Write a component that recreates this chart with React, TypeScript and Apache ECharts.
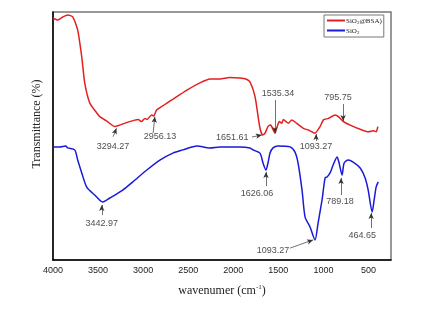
import React, { useEffect, useRef } from 'react';
import * as echarts from 'echarts';

// SiO2@BSA (red) spectrum
const redWave = [4000, 3948, 3892, 3837, 3781, 3726, 3681, 3648, 3592, 3514, 3481, 3403, 3314, 3259, 3184, 3111, 3056, 3018, 2981, 2956, 2907, 2881, 2851, 2796, 2740, 2685, 2514, 2370, 2259, 2148, 2040, 1926, 1860, 1815, 1759, 1706, 1674, 1648, 1615, 1585, 1556, 1537, 1518, 1489, 1462, 1444, 1414, 1389, 1351, 1296, 1222, 1167, 1093, 1037, 1000, 944, 870, 833, 778, 703, 592, 500, 444, 414, 396];
const redT = [97.5, 96.8, 98.0, 98.8, 98.0, 92.7, 81.9, 71.4, 63.3, 59.3, 57.8, 56.0, 53.8, 54.4, 55.4, 56.2, 56.7, 55.8, 57.1, 56.7, 58.5, 58.1, 60.5, 61.8, 63.2, 64.5, 68.5, 71.4, 73.0, 73.0, 73.6, 73.4, 73.0, 71.8, 66.0, 53.6, 50.4, 51.1, 53.8, 54.4, 52.4, 51.1, 53.2, 55.8, 55.1, 56.7, 55.8, 55.1, 56.5, 55.1, 53.1, 52.4, 51.1, 53.8, 56.5, 57.1, 58.5, 57.8, 55.8, 54.4, 52.7, 51.7, 52.1, 51.7, 53.8];

// SiO2 (blue) spectrum
const blueWave = [4000, 3926, 3859, 3837, 3759, 3726, 3681, 3626, 3537, 3448, 3370, 3226, 3114, 2959, 2814, 2670, 2559, 2403, 2259, 2148, 1926, 1815, 1781, 1704, 1670, 1637, 1615, 1592, 1559, 1504, 1370, 1315, 1281, 1237, 1203, 1148, 1093, 1059, 1015, 981, 959, 926, 892, 848, 826, 793, 770, 726, 670, 592, 537, 503, 459, 437, 415, 392];
const blueT = [45.6, 45.6, 46.0, 45.2, 44.4, 40.3, 35.1, 29.4, 26.2, 23.4, 25.0, 28.2, 31.5, 36.3, 40.3, 43.1, 44.4, 46.0, 45.2, 45.6, 45.6, 45.2, 44.4, 43.1, 39.1, 36.3, 39.1, 43.1, 45.2, 46.0, 45.6, 43.5, 39.1, 28.2, 17.3, 13.3, 8.1, 14.9, 24.2, 33.1, 33.5, 35.1, 38.3, 41.5, 39.1, 34.3, 39.1, 40.3, 39.5, 37.1, 33.1, 28.2, 19.4, 24.2, 29.4, 31.5];

// peak annotations: [label, textWave, textT, tailWave, tailT, tipWave, tipT]
const redNotes: [string, number, number, number, number, number, number][] = [
  ['3294.27', 3335, 46.0, 3333, 49.7, 3296, 53.1],
  ['2956.13', 2813, 50.0, 2889, 51.2, 2870, 57.8],
  ['1651.61', 2012, 49.6, 1792, 49.6, 1683, 50.4],
  ['1535.34', 1503, 67.3, 1537, 64.5, 1537, 51.2],
  ['1093.27', 1081, 46.0, 1081, 48.0, 1081, 50.8],
  ['795.75', 838, 65.7, 781, 62.9, 781, 56.0],
];
const blueNotes: [string, number, number, number, number, number, number][] = [
  ['3442.97', 3459, 14.9, 3459, 18.1, 3459, 22.2],
  ['1626.06', 1737, 27.0, 1637, 29.8, 1637, 35.5],
  ['1093.27', 1559, 4.0, 1370, 4.8, 1115, 8.1],
  ['789.18', 816, 23.8, 804, 26.2, 804, 33.1],
  ['464.65', 570, 10.1, 470, 12.9, 470, 19.0],
];

const seriesNames = ['SiO2@BSA)', 'SiO2'];
const seriesColors = ['#e41f1f', '#1a1ad8'];

const SANS = '"Liberation Sans", Arial, sans-serif';
const SERIF = '"Liberation Serif", "Times New Roman", serif';

export default function App() {
  const ref = useRef<HTMLDivElement>(null);
  useEffect(() => {
    const chart = echarts.init(ref.current!, null, { renderer: 'svg' });
    const zip = (w: number[], t: number[]) => w.map((x, i) => [x, t[i]]);
    const arrows = (notes: any[]) =>
      notes.map((n) => [{ coord: [n[3], n[4]] }, { coord: [n[5], n[6]] }]);
    const labels = (notes: any[]) => notes.map((n) => ({ name: n[0], value: [n[1], n[2]] }));
    const markLine = (notes: any[]) => ({
      silent: true,
      symbol: ['none', 'arrow'],
      symbolSize: [4, 6],
      label: { show: false },
      lineStyle: { color: '#333', width: 0.7, type: 'solid' },
      emphasis: { disabled: true },
      data: arrows(notes),
    });
    const labelSeries = (notes: any[]) => ({
      type: 'scatter',
      symbolSize: 0,
      silent: true,
      data: labels(notes),
      label: {
        show: true,
        position: 'inside',
        formatter: '{b}',
        fontSize: 9,
        fontFamily: SANS,
        color: '#1a1a1a',
      },
    });
    chart.setOption({
      animation: false,
      grid: { left: 53, right: 49, top: 12, bottom: 51, show: true, borderColor: '#777', borderWidth: 1.5 },
      legend: {
        orient: 'vertical',
        left: 324,
        top: 15,
        data: seriesNames,
        icon: 'rect',
        itemWidth: 18,
        itemHeight: 2,
        itemGap: 2,
        padding: [2, 2, 2, 3],
        borderColor: '#777',
        borderWidth: 1,
        formatter: (name: string) =>
          name === seriesNames[0] ? '{a|SiO}{s|2}{a|@BSA)}' : '{a|SiO}{s|2}',
        textStyle: {
          color: '#222',
          fontFamily: SERIF,
          fontSize: 7,
          padding: [0, 0, 0, -4],
          rich: {
            a: { fontFamily: SERIF, fontSize: 7, color: '#222', lineHeight: 9 },
            s: { fontFamily: SERIF, fontSize: 5, color: '#222', verticalAlign: 'bottom', lineHeight: 9 },
          },
        },
      },
      xAxis: {
        type: 'value',
        inverse: true,
        min: 250,
        max: 4000,
        interval: 250,
        axisLine: { lineStyle: { color: '#000', width: 1.5 } },
        axisTick: { show: false },
        splitLine: { show: false },
        axisLabel: {
          formatter: (v: number) => (v % 500 === 0 ? String(v) : ''),
          fontSize: 9,
          fontFamily: SANS,
          color: '#1a1a1a',
          margin: 5,
        },
        name: '{a|wavenumer (cm}{s|-1}{a|)}',
        nameLocation: 'middle',
        nameGap: 23,
        nameTextStyle: {
          color: '#222',
          fontFamily: SERIF,
          fontSize: 12,
          rich: {
            a: { fontFamily: SERIF, fontSize: 12, color: '#222', lineHeight: 14 },
            s: { fontFamily: SERIF, fontSize: 7, color: '#222', verticalAlign: 'top', lineHeight: 14 },
          },
        },
      },
      yAxis: {
        type: 'value',
        min: 0,
        max: 100,
        axisLine: { show: true, lineStyle: { color: '#000', width: 1.5 } },
        axisTick: { show: false },
        axisLabel: { show: false },
        splitLine: { show: false },
      },
      graphic: [
        {
          type: 'text',
          x: 36,
          y: 124,
          rotation: Math.PI / 2,
          style: {
            text: 'Transmittance (%)',
            font: '12px "Liberation Serif", "Times New Roman", serif',
            fill: '#222',
            align: 'center',
            verticalAlign: 'middle',
          },
        },
      ],
      series: [
        {
          name: seriesNames[0],
          type: 'line',
          data: zip(redWave, redT),
          showSymbol: false,
          smooth: 0.2,
          lineStyle: { color: seriesColors[0], width: 1.5 },
          itemStyle: { color: seriesColors[0] },
          markLine: markLine(redNotes),
        },
        {
          name: seriesNames[1],
          type: 'line',
          data: zip(blueWave, blueT),
          showSymbol: false,
          smooth: 0.25,
          lineStyle: { color: seriesColors[1], width: 1.5 },
          itemStyle: { color: seriesColors[1] },
          markLine: markLine(blueNotes),
        },
        labelSeries(redNotes),
        labelSeries(blueNotes),
      ],
    });
    return () => chart.dispose();
  }, []);
  return <div ref={ref} style={{ position: 'fixed', left: 0, top: 0, width: 440, height: 311 }} />;
}
